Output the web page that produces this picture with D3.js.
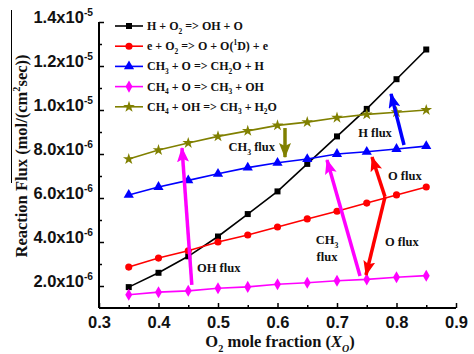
<!DOCTYPE html>
<html lang="en">
  <head>
    <meta charset="UTF-8" />
    <title>Reaction Flux vs O2 mole fraction</title>
    <script src="https://d3js.org/d3.v7.min.js"></script>
    <style>
      body { margin: 0; background: #fff; }
      svg { font-family: "Liberation Serif", "Times New Roman", serif; font-weight: bold; }
    </style>
  </head>
  <body>
    <svg id="chart" width="474" height="354"></svg>

    <script>
      // O2 mole fraction values
      const xValues = [0.35, 0.4, 0.45, 0.5, 0.55, 0.6, 0.65, 0.7, 0.75, 0.8, 0.85];

      // series values (mol/(cm^2 sec))
      const hO2 = [1.95e-6, 2.6e-6, 3.35e-6, 4.25e-6, 5.27e-6, 6.3e-6, 7.55e-6, 8.8e-6, 10.05e-6, 11.4e-6, 12.75e-6];
      const eO2 = [2.86e-6, 3.27e-6, 3.6e-6, 4.0e-6, 4.32e-6, 4.68e-6, 5.05e-6, 5.4e-6, 5.77e-6, 6.14e-6, 6.5e-6];
      const ch3O = [6.14e-6, 6.5e-6, 6.8e-6, 7.1e-6, 7.38e-6, 7.6e-6, 7.77e-6, 8.0e-6, 8.1e-6, 8.23e-6, 8.36e-6];
      const ch4O = [1.6e-6, 1.72e-6, 1.78e-6, 1.9e-6, 1.96e-6, 2.08e-6, 2.15e-6, 2.24e-6, 2.3e-6, 2.4e-6, 2.47e-6];
      const ch4OH = [7.77e-6, 8.18e-6, 8.5e-6, 8.8e-6, 9.05e-6, 9.3e-6, 9.45e-6, 9.65e-6, 9.8e-6, 9.9e-6, 10.0e-6];

      const seriesNames = [
        "H + O_{2} => OH + O",
        "e + O_{2} => O + O(^{1}D) + e",
        "CH_{3} + O => CH_{2}O + H",
        "CH_{4} + O => CH_{3} + OH",
        "CH_{4} + OH => CH_{3} + H_{2}O",
      ];
      const seriesValues = [hO2, eO2, ch3O, ch4O, ch4OH];
      const seriesColors = ["#000000", "#ff0000", "#0000ff", "#ff00ff", "#808000"];

      // tick labels
      const xTicks = [0.3, 0.4, 0.5, 0.6, 0.7, 0.8, 0.9];
      const yTicks = [2e-6, 4e-6, 6e-6, 8e-6, 1e-5, 1.2e-5, 1.4e-5];
      const yTickLabels = ["2.0x10^{-6}", "4.0x10^{-6}", "6.0x10^{-6}", "8.0x10^{-6}", "1.0x10^{-5}", "1.2x10^{-5}", "1.4x10^{-5}"];

      // annotation arrows in data coords
      const arrows = [
        { from: [0.456, 2.05e-6], to: [0.4395, 8.27e-6], color: "#ff00ff" },
        { from: [0.6126, 9.18e-6], to: [0.6126, 7.86e-6], color: "#808000" },
        { from: [0.8126, 8.41e-6], to: [0.7908, 10.73e-6], color: "#0000ff" },
        { from: [0.7807, 6.05e-6], to: [0.7588, 7.86e-6], color: "#ff0000" },
        { from: [0.7807, 6.05e-6], to: [0.7487, 2.5e-6], color: "#ff0000" },
        { from: [0.7387, 2.45e-6], to: [0.6832, 7.73e-6], color: "#ff00ff" },
      ];
      const notes = [
        { text: "OH flux", at: [0.4647, 2.64e-6], anchor: "start" },
        { text: "CH_{3} flux", at: [0.5958, 8.14e-6], anchor: "end" },
        { text: "H flux", at: [0.7639, 8.77e-6], anchor: "middle" },
        { text: "O flux", at: [0.7857, 6.82e-6], anchor: "start" },
        { text: "O flux", at: [0.7807, 3.82e-6], anchor: "start" },
        { text: "CH_{3}", at: [0.6832, 3.91e-6], anchor: "middle" },
        { text: "flux", at: [0.6832, 3.14e-6], anchor: "middle" },
      ];

      const svg = d3.select("#chart");
      const x = d3.scaleLinear().domain([0.3, 0.9]).range([99, 456]);
      const y = d3.scaleLinear().domain([1e-6, 1.4e-5]).range([308, 22]);

      // write "a_{b}c^{d}" as tspans
      function rich(sel, str, size) {
        const parts = str.split(/(_\{[^}]*\}|\^\{[^}]*\})/).filter((p) => p);
        let shift = 0;
        parts.forEach((p) => {
          let dy = 0, fs = size, t = p;
          if (p[0] === "_") { dy = size * 0.3; fs = size * 0.62; t = p.slice(2, -1); }
          else if (p[0] === "^") { dy = -size * 0.42; fs = size * 0.62; t = p.slice(2, -1); }
          sel.append("tspan").attr("dy", dy - shift).style("font-size", fs + "px").text(t);
          shift = dy;
        });
      }

      // axes
      const yAxis = svg.append("g").attr("transform", "translate(99,0)")
        .call(d3.axisLeft(y).tickValues(yTicks).tickSize(-5).tickPadding(6).tickFormat(""));
      svg.append("g").attr("transform", "translate(99,0)")
        .call(d3.axisLeft(y).tickValues(d3.range(3e-6, 1.4e-5, 2e-6)).tickSize(-3).tickFormat(""))
        .select(".domain").remove();
      const xAxis = svg.append("g").attr("transform", "translate(0,308)")
        .call(d3.axisBottom(x).tickValues(xTicks).tickSize(-5).tickPadding(8).tickFormat(d3.format(".1f")));
      svg.append("g").attr("transform", "translate(0,308)")
        .call(d3.axisBottom(x).tickValues(d3.range(0.35, 0.9, 0.1)).tickSize(-3).tickFormat(""))
        .select(".domain").remove();

      svg.selectAll(".domain").attr("stroke-width", 2);
      yAxis.select(".domain").attr("d", "M0,22V308");
      xAxis.select(".domain").attr("d", "M99,0H456");
      svg.selectAll(".tick line").attr("stroke-width", 1.5);

      xAxis.selectAll("text").style("font-size", "16.5px").attr("fill", "#111");
      yAxis.selectAll(".tick text").each(function (d, i) {
        const t = d3.select(this).attr("x", -6).attr("dy", "0.35em").attr("fill", "#111");
        rich(t, yTickLabels[i], 16.5);
      });

      // axis titles
      const xt = svg.append("text").attr("x", 280).attr("y", 347).attr("text-anchor", "middle").attr("fill", "#111");
      rich(xt, "O_{2} mole fraction (", 16.5);
      xt.append("tspan").attr("dy", 0).style("font-style", "italic").style("font-size", "16.5px").text("X");
      xt.append("tspan").attr("dy", 5).style("font-style", "italic").style("font-size", "10px").text("O");
      xt.append("tspan").attr("dy", -5).style("font-size", "16.5px").text(")");

      const yt = svg.append("text").attr("transform", "translate(27,156) rotate(-90)")
        .attr("text-anchor", "middle").attr("fill", "#111");
      rich(yt, "Reaction Flux (mol/(cm^{2}sec))", 16.5);
      svg.append("line").attr("x1", 11.5).attr("x2", 11.5).attr("y1", 10).attr("y2", 183)
        .attr("stroke", "#000").attr("stroke-width", 1);

      // series lines + markers
      const symbols = [d3.symbolSquare, d3.symbolCircle, d3.symbolTriangle, d3.symbolDiamond, d3.symbolStar];
      const symSizes = [36, 40, 45, 42, 42];
      const line = d3.line().x((d) => x(d[0])).y((d) => y(d[1]));

      seriesValues.forEach((vals, i) => {
        const pts = xValues.map((xv, j) => [xv, vals[j]]);
        svg.append("path").datum(pts).attr("d", line).attr("fill", "none")
          .attr("stroke", seriesColors[i]).attr("stroke-width", 1.6);
        svg.append("g").selectAll("path").data(pts).join("path")
          .attr("transform", (d) => `translate(${x(d[0])},${y(d[1])})`)
          .attr("d", d3.symbol(symbols[i], symSizes[i]))
          .attr("fill", seriesColors[i]);
      });

      // arrows
      const defs = svg.append("defs");
      arrows.forEach((a, i) => {
        defs.append("marker").attr("id", "ah" + i).attr("viewBox", "0 0 15 12")
          .attr("refX", 14).attr("refY", 6).attr("markerWidth", 15).attr("markerHeight", 12)
          .attr("markerUnits", "userSpaceOnUse").attr("orient", "auto")
          .append("path").attr("d", "M0,0L15,6L0,12L3,6Z").attr("fill", a.color);
        svg.append("line")
          .attr("x1", x(a.from[0])).attr("y1", y(a.from[1]))
          .attr("x2", x(a.to[0])).attr("y2", y(a.to[1]))
          .attr("stroke", a.color).attr("stroke-width", 3.5)
          .attr("marker-end", `url(#ah${i})`);
      });

      notes.forEach((n) => {
        const t = svg.append("text").attr("x", x(n.at[0])).attr("y", y(n.at[1]))
          .attr("text-anchor", n.anchor).attr("fill", "#111");
        rich(t, n.text, 12.5);
      });

      // legend
      const legend = svg.append("g");
      seriesNames.forEach((name, i) => {
        const ly = 26 + i * 20.2;
        legend.append("line").attr("x1", 115).attr("x2", 143).attr("y1", ly).attr("y2", ly)
          .attr("stroke", seriesColors[i]).attr("stroke-width", 1.6);
        legend.append("path").attr("transform", `translate(129,${ly})`)
          .attr("d", d3.symbol(symbols[i], symSizes[i])).attr("fill", seriesColors[i]);
        const t = legend.append("text").attr("x", 147).attr("y", ly + 4).attr("fill", "#111");
        rich(t, name, 12);
      });
    </script>
  </body>
</html>
